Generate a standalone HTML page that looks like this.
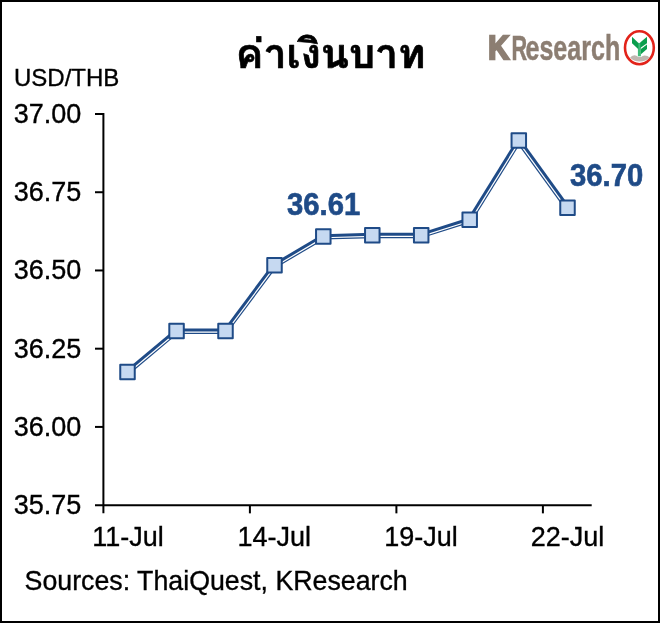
<!DOCTYPE html>
<html><head><meta charset="utf-8"><title>ค่าเงินบาท</title>
<style>
html,body{margin:0;padding:0;background:#fff;}
body{width:660px;height:623px;overflow:hidden;}
svg{display:block;}
text{font-family:"Liberation Sans","Arial",sans-serif;fill:#000;stroke:#000;stroke-width:0.35px;}
.th{font-family:"Liberation Sans","Loma","Noto Sans Thai Looped","Noto Sans Thai","Garuda","Tahoma",sans-serif;font-weight:bold;}
.ax{font-size:27px;}
.lbl{font-size:28px;font-weight:bold;fill:#1f4b87;stroke:#1f4b87;stroke-width:0.6px;}
.lg{fill:#8c7e72;font-weight:bold;stroke:#8c7e72;stroke-width:0.5px;}
</style></head><body>
<svg width="660" height="623" viewBox="0 0 660 623">
<rect x="0" y="0" width="660" height="623" fill="#fff"/>
<rect x="1" y="1" width="658" height="621" fill="none" stroke="#000" stroke-width="2"/>
<text class="th" transform="translate(330.6 68.2) scale(0.981 0.97)" x="0" y="0" font-size="42" text-anchor="middle" stroke-linejoin="round" style="stroke-width:0.7px">ค่าเงินบาท</text>
<g id="logo">
<text class="lg" transform="translate(488.3 59.2) scale(0.878 1)" x="0" y="0" font-size="33" stroke-linejoin="miter" style="stroke-width:2.4px">K</text><text class="lg" transform="translate(511.4 59.8) scale(0.62 1)" x="0" y="0" font-size="35">R</text><text class="lg" transform="translate(525.5 59.8) scale(0.716 1)" x="0" y="0" font-size="35">esearch</text>
<ellipse cx="639.4" cy="47.7" rx="14.4" ry="16.5" fill="#fff" stroke="#e2231a" stroke-width="2.6"/>
<path d="M630.1 57.7 Q631.6 55.2 634.4 55.2 Q636.6 55.2 638.4 56.9 L641 56.9 Q642.4 55.4 644.6 55.4 Q647.8 55.4 649.7 57.5 Q646 61.3 639.7 61.5 Q633.4 61.3 630.1 57.7 Z" fill="#bfb6b0"/>
<path d="M637.9 42.9 L640.9 42.9 L640.9 56.3 L637.9 56.3 Z" fill="#3dbb78"/>
<path d="M632 36.8 L638.4 42.9 L638.4 49.2 L632 43.2 Z" fill="#0a9e4d"/>
<path d="M647 36.8 L647 43.2 L640.2 47.9 L640.2 42.4 Z" fill="#0a9e4d"/>
<path d="M647 44.4 L647 48.9 L640.9 54.3 L640.9 48.9 Z" fill="#0a9e4d"/>
</g>
<g stroke="#000" stroke-width="2.0" fill="none"><path d="M103.4 113.0 V513.35"/><path d="M95.0 505.15 H591.7"/><path d="M95.0 114.00 H103.4"/><path d="M95.0 192.23 H103.4"/><path d="M95.0 270.46 H103.4"/><path d="M95.0 348.69 H103.4"/><path d="M95.0 426.92 H103.4"/><path d="M249.9 505.15 V513.35"/><path d="M396.4 505.15 V513.35"/><path d="M542.9 505.15 V513.35"/></g>
<text x="14" y="86" font-size="24">USD/THB</text>
<text class="ax" x="81.3" y="123.00" text-anchor="end">37.00</text>
<text class="ax" x="81.3" y="201.23" text-anchor="end">36.75</text>
<text class="ax" x="81.3" y="279.46" text-anchor="end">36.50</text>
<text class="ax" x="81.3" y="357.69" text-anchor="end">36.25</text>
<text class="ax" x="81.3" y="435.92" text-anchor="end">36.00</text>
<text class="ax" x="81.3" y="514.15" text-anchor="end">35.75</text>
<text class="ax" x="128.0" y="545.5" text-anchor="middle">11-Jul</text>
<text class="ax" x="274.3" y="545.5" text-anchor="middle">14-Jul</text>
<text class="ax" x="420.9" y="545.5" text-anchor="middle">19-Jul</text>
<text class="ax" x="567.6" y="545.5" text-anchor="middle">22-Jul</text>
<text x="24.6" y="589.5" font-size="26.75">Sources: ThaiQuest, KResearch</text>
<g fill="none" stroke-linecap="butt"><line x1="127.50" y1="372.35" x2="176.55" y2="331.25" stroke="#ffffff" stroke-width="5.4"/><line x1="126.73" y1="371.43" x2="175.78" y2="330.33" stroke="#1f4b87" stroke-width="3.0"/><line x1="128.85" y1="373.96" x2="177.90" y2="332.86" stroke="#1f4b87" stroke-width="1.2"/><line x1="176.55" y1="331.25" x2="225.50" y2="331.25" stroke="#ffffff" stroke-width="5.4"/><line x1="176.55" y1="330.05" x2="225.50" y2="330.05" stroke="#1f4b87" stroke-width="3.0"/><line x1="176.55" y1="333.35" x2="225.50" y2="333.35" stroke="#1f4b87" stroke-width="1.2"/><line x1="225.50" y1="331.25" x2="274.50" y2="265.65" stroke="#ffffff" stroke-width="5.4"/><line x1="224.54" y1="330.53" x2="273.54" y2="264.93" stroke="#1f4b87" stroke-width="3.0"/><line x1="227.18" y1="332.51" x2="276.18" y2="266.91" stroke="#1f4b87" stroke-width="1.2"/><line x1="274.50" y1="265.65" x2="323.30" y2="236.85" stroke="#ffffff" stroke-width="5.4"/><line x1="273.89" y1="264.62" x2="322.69" y2="235.82" stroke="#1f4b87" stroke-width="3.0"/><line x1="275.57" y1="267.46" x2="324.37" y2="238.66" stroke="#1f4b87" stroke-width="1.2"/><line x1="323.30" y1="236.85" x2="372.30" y2="235.55" stroke="#ffffff" stroke-width="5.4"/><line x1="323.27" y1="235.65" x2="372.27" y2="234.35" stroke="#1f4b87" stroke-width="3.0"/><line x1="323.36" y1="238.95" x2="372.36" y2="237.65" stroke="#1f4b87" stroke-width="1.2"/><line x1="372.30" y1="235.55" x2="421.20" y2="235.55" stroke="#ffffff" stroke-width="5.4"/><line x1="372.30" y1="234.35" x2="421.20" y2="234.35" stroke="#1f4b87" stroke-width="3.0"/><line x1="372.30" y1="237.65" x2="421.20" y2="237.65" stroke="#1f4b87" stroke-width="1.2"/><line x1="421.20" y1="235.55" x2="469.70" y2="220.15" stroke="#ffffff" stroke-width="5.4"/><line x1="420.84" y1="234.41" x2="469.34" y2="219.01" stroke="#1f4b87" stroke-width="3.0"/><line x1="421.84" y1="237.55" x2="470.34" y2="222.15" stroke="#1f4b87" stroke-width="1.2"/><line x1="469.70" y1="220.15" x2="518.80" y2="140.85" stroke="#ffffff" stroke-width="5.4"/><line x1="468.68" y1="219.52" x2="517.78" y2="140.22" stroke="#1f4b87" stroke-width="3.0"/><line x1="471.49" y1="221.26" x2="520.59" y2="141.96" stroke="#1f4b87" stroke-width="1.2"/><line x1="518.80" y1="140.85" x2="567.50" y2="208.15" stroke="#ffffff" stroke-width="5.4"/><line x1="519.77" y1="140.15" x2="568.47" y2="207.45" stroke="#1f4b87" stroke-width="3.0"/><line x1="517.10" y1="142.08" x2="565.80" y2="209.38" stroke="#1f4b87" stroke-width="1.2"/></g>
<g fill="#c6d9f1" stroke="#1f4b87" stroke-width="2" stroke-linejoin="round"><rect x="120.25" y="364.75" width="14.5" height="14.5"/><rect x="169.30" y="323.65" width="14.5" height="14.5"/><rect x="218.25" y="323.65" width="14.5" height="14.5"/><rect x="267.25" y="258.05" width="14.5" height="14.5"/><rect x="316.05" y="229.25" width="14.5" height="14.5"/><rect x="365.05" y="227.95" width="14.5" height="14.5"/><rect x="413.95" y="227.95" width="14.5" height="14.5"/><rect x="462.45" y="212.55" width="14.5" height="14.5"/><rect x="511.55" y="133.25" width="14.5" height="14.5"/><rect x="560.25" y="200.55" width="14.5" height="14.5"/></g>
<text class="lbl" transform="translate(287 214.9) scale(1.045 1.10)" x="0" y="0">36.61</text>
<text class="lbl" transform="translate(570 186.4) scale(1.045 1.10)" x="0" y="0">36.70</text>
</svg></body></html>
